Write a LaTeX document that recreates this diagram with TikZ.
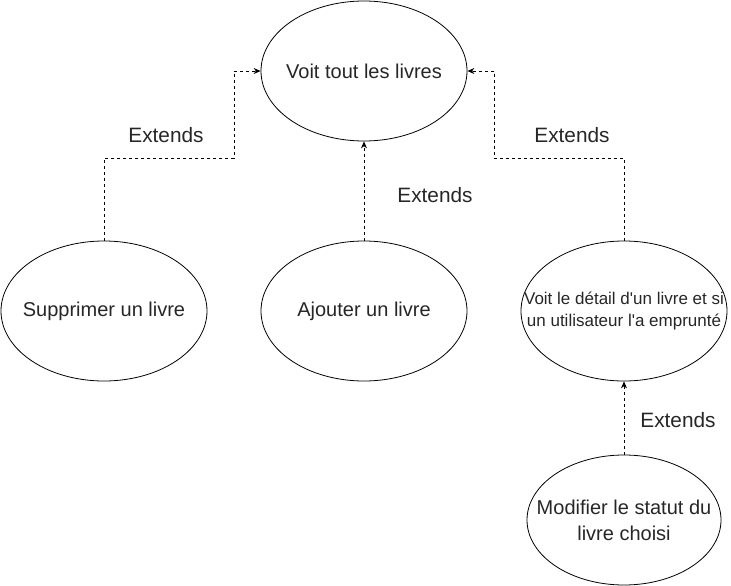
\documentclass[tikz,border=0pt]{standalone}
\usepackage{fontspec}
\setmainfont{Liberation Sans}[Ligatures=TeXOff]
\usetikzlibrary{arrows.meta,shapes.geometric}
\begin{document}
\begin{tikzpicture}[x=1pt,y=-1pt,
  uc/.style={draw=black, line width=0.8pt, shape=ellipse, inner sep=0pt},
  uctext/.style={text=black!85, align=center, inner sep=0pt, font=\fontsize{20}{26}\selectfont},
  ext/.style={draw=black, line width=0.8pt, dash pattern=on 3pt off 3pt, -{Stealth[length=7pt,width=6pt]}},
  lbl/.style={text=black!85, font=\fontsize{20.8}{24}\selectfont}
]
\useasboundingbox (0,0) rectangle (731,586);
\node[uc, minimum width=206pt, minimum height=140pt] (top) at (364,71) {};
\node[uc, minimum width=206pt, minimum height=140pt] (sup) at (104,311) {};
\node[uc, minimum width=206pt, minimum height=140pt] (aj) at (364,311) {};
\node[uc, minimum width=206pt, minimum height=140pt] (det) at (624,311) {};
\node[uc, minimum width=194pt, minimum height=130pt] (mod) at (624,520) {};

\node[uctext] (ttop) at (top.center) {Voit tout les livres};
\node[uctext] (tsup) at (sup.center) {Supprimer un livre};
\node[uctext] (taj) at (aj.center) {Ajouter un livre};
\node[uctext, font=\fontsize{17}{22}\selectfont] (tdet) at (det.center) {Voit le détail d'un livre et si\\un utilisateur l'a emprunté};
\node[uctext] (tmod) at (mod.center) {Modifier le statut du\\livre choisi};

\coordinate (a1) at (104,158);
\coordinate (a2) at (234,158);
\coordinate (a3) at (234,71);
\draw[ext] (sup.north) -- (a1) -- (a2) -- (a3) -- (top.west);

\draw[ext] (aj.north) -- (top.south);

\coordinate (b1) at (624,158);
\coordinate (b2) at (494,158);
\coordinate (b3) at (494,71);
\draw[ext] (det.north) -- (b1) -- (b2) -- (b3) -- (top.east);

\draw[ext] (mod.north) -- (det.south);

\node[lbl] (l1) at (166,135) {Extends};
\node[lbl] (l2) at (435,195) {Extends};
\node[lbl] (l3) at (572,135) {Extends};
\node[lbl] (l4) at (678,420) {Extends};
\end{tikzpicture}
\end{document}
